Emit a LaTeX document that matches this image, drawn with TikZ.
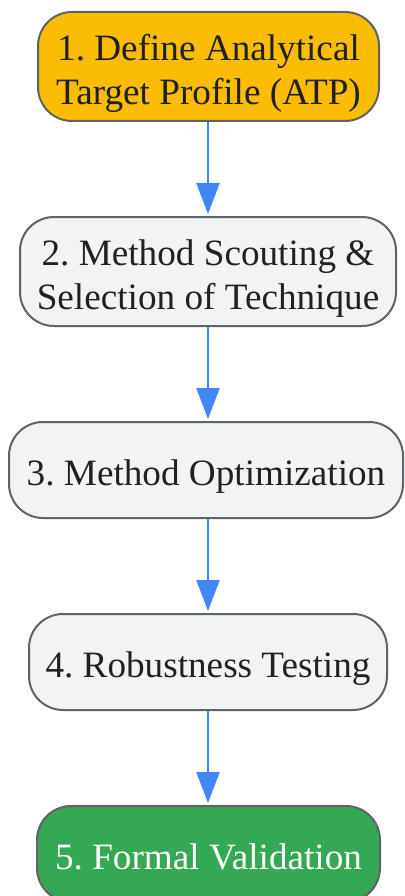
\documentclass[tikz,border=0pt]{standalone}
\usepackage{fontspec}
\setmainfont{Liberation Serif}
\usetikzlibrary{arrows.meta}
\definecolor{bordergray}{HTML}{5F6368}
\definecolor{txtdark}{HTML}{202124}
\definecolor{orangefill}{HTML}{FBBC04}
\definecolor{grayfill}{HTML}{F1F3F4}
\definecolor{greenfill}{HTML}{34A853}
\definecolor{arrowblue}{HTML}{4285F4}
\frenchspacing
\begin{document}
\begin{tikzpicture}[x=1pt,y=-1pt,
  stepbox/.style={draw=bordergray, line width=2pt, rounded corners=34pt, inner sep=0pt},
  steptext/.style={align=center, text=txtdark, inner sep=0pt, text depth=0pt,
    yshift=-3pt, font=\fontsize{37.2}{44}\selectfont},
  conn/.style={draw=arrowblue, line width=2pt,
    -{Triangle[length=31pt,width=23pt]}, shorten >=2pt}]
\useasboundingbox (0,0) rectangle (404,896);
\clip (0,0) rectangle (404,896);
\node[stepbox, fill=orangefill, minimum width=341pt, minimum height=109pt,
  label={[steptext]center:1. Define Analytical\\Target Profile (ATP)}] (s1) at (208.5,66.5) {};
\node[stepbox, fill=grayfill, minimum width=376pt, minimum height=109pt,
  label={[steptext]center:2. Method Scouting \&\\Selection of Technique}] (s2) at (208,271.5) {};
\node[stepbox, fill=grayfill, minimum width=394pt, minimum height=96pt,
  label={[steptext]center:3. Method Optimization}] (s3) at (206,470) {};
\node[stepbox, fill=grayfill, minimum width=358pt, minimum height=96pt,
  label={[steptext]center:4. Robustness Testing}] (s4) at (208,662) {};
\node[stepbox, fill=greenfill, minimum width=343pt, minimum height=96pt,
  label={[steptext, text=white]center:5. Formal Validation}] (s5) at (208.5,854) {};
\draw[conn] (s1.south -| 208,0) -- (s2.north -| 208,0);
\draw[conn] (s2.south -| 208,0) -- (s3.north -| 208,0);
\draw[conn] (s3.south -| 208,0) -- (s4.north -| 208,0);
\draw[conn] (s4.south -| 208,0) -- (s5.north -| 208,0);
\end{tikzpicture}
\end{document}
